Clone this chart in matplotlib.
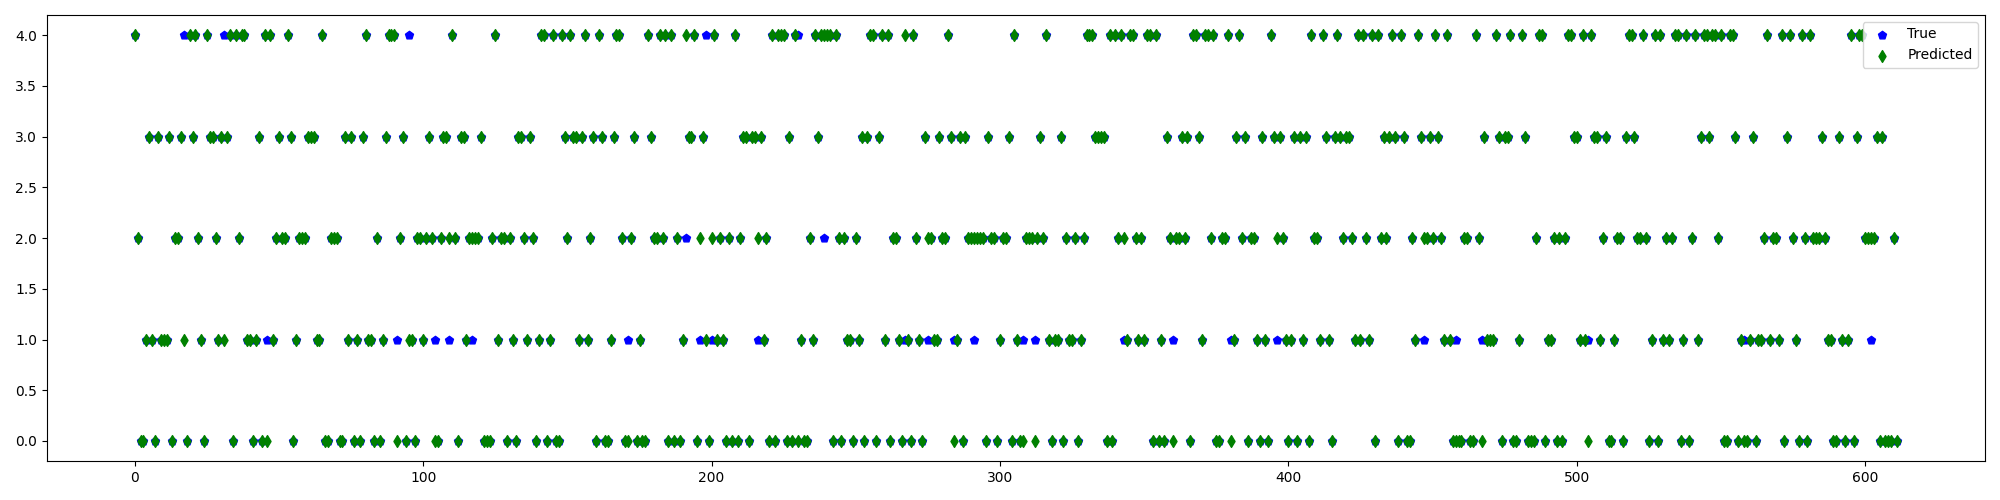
import matplotlib
matplotlib.use("Agg")
import matplotlib.pyplot as plt

# Predicted class for each sample index 0..611
PRED = (
    "4200131031" "1130223104" "3421043321" "3134042441" "1013040412"
    "3224301222" "3331140022" "2003130103" "4110201344" "4023011022"
    "1232002332" "4203312222" "3000241220" "2103321320" "1440140043"
    "2433134123" "0430013442" "0023010043" "2242404020" "1433402310"
    "2412102040" "2330332312" "0404440304" "0100214344" "4404202110"
    "2130344034" "1402210410" "4210322113" "2243013032" "2222203220"
    "1223041002" "2202324101" "1302112012" "4443333040" "4242144212"
    "1440401032" "0223230443" "1442400224" "0134230221" "0310432321"
    "0130313042" "2143103432" "3321414214" "0423234304" "3002143223"
    "2432141000" "0220042031" "1143033400" "1430002440" "1120202443"
    "3141043312" "3001220344" "3224201404" "1212440140" "2413443442"
    "4004430100" "1301124122" "1403421042" "0422232110" "0310140344"
    "2222303000" "20"
)

# Indices where the true class differs from the prediction: index -> true class
TRUE_DIFF = {
    17: 4, 31: 4, 46: 1, 91: 1, 95: 4, 104: 1, 109: 1, 117: 1,
    171: 1, 191: 2, 196: 1, 198: 4, 200: 1, 216: 1, 230: 4, 239: 2,
    267: 1, 275: 1, 284: 1, 291: 1, 308: 1, 312: 1, 343: 1, 360: 1,
    380: 1, 396: 1, 447: 1, 458: 1, 467: 1, 504: 1, 558: 1, 602: 1,
}

y_pred = [int(c) for c in PRED]
y_true = list(y_pred)
for k, v in TRUE_DIFF.items():
    y_true[k] = v
x = list(range(len(y_pred)))

fig, ax = plt.subplots(figsize=(20, 5), dpi=100)
ax.scatter(x, y_true, c="blue", marker="p", label="True")
ax.scatter(x, y_pred, c="green", marker="d", label="Predicted")
ax.legend(loc="upper right")
fig.tight_layout()
fig.savefig("out.png", dpi=100)
